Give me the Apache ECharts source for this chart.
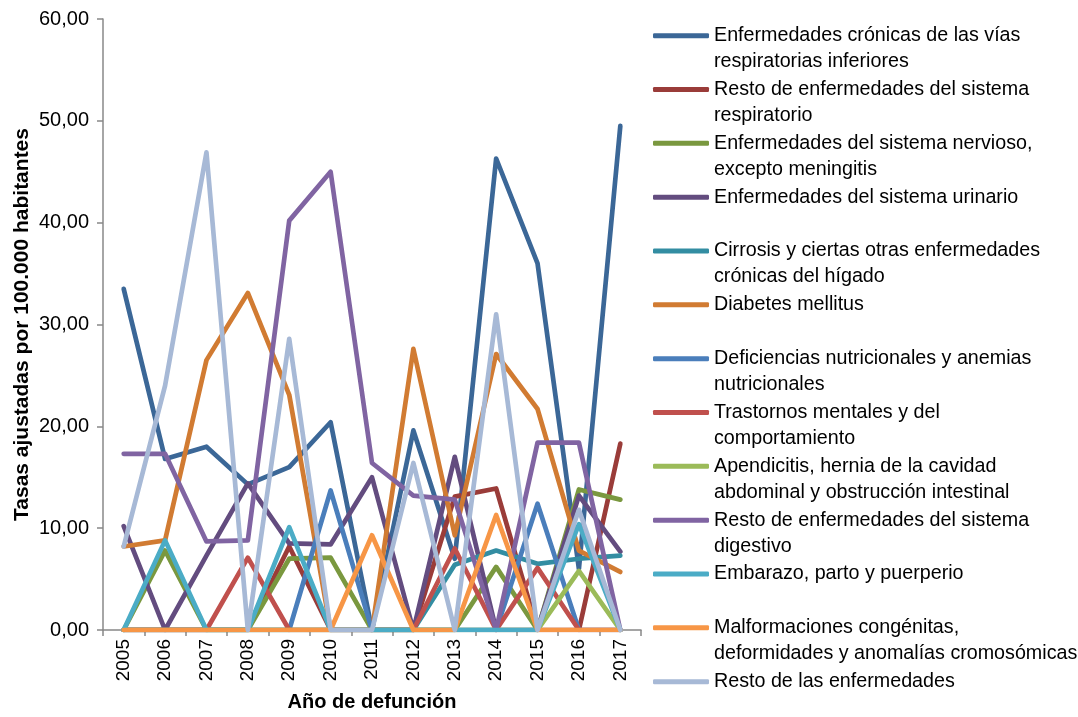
<!DOCTYPE html>
<html>
<head>
<meta charset="utf-8">
<script src="https://cdn.jsdelivr.net/npm/echarts@6/dist/echarts.min.js"></script>
<style>
  html, body { margin: 0; padding: 0; background: #ffffff; }
  #chart { width: 1078px; height: 717px; }
</style>
</head>
<body>
<div id="chart"></div>
<script>
// Años de defunción
const years = ['2005','2006','2007','2008','2009','2010','2011','2012','2013','2014','2015','2016','2017'];

// Tasas ajustadas por 100.000 habitantes, por causa
const viasRespiratorias   = [33.5, 16.8, 18.0, 14.3, 16.0, 20.4, 0.0, 19.6, 7.0, 46.3, 36.0, 6.0, 49.5];
const restoRespiratorio   = [0.0, 0.0, 0.0, 0.0, 8.2, 0.0, 0.0, 0.0, 13.1, 13.9, 0.0, 0.0, 18.3];
const sistemaNervioso     = [0.0, 7.8, 0.0, 0.0, 7.0, 7.1, 0.0, 0.0, 0.0, 6.2, 0.0, 13.8, 12.8];
const sistemaUrinario     = [10.2, 0.0, 7.3, 14.4, 8.5, 8.4, 15.0, 0.0, 17.0, 0.0, 0.0, 13.2, 7.7];
const cirrosis            = [0.0, 0.0, 0.0, 0.0, 0.0, 0.0, 0.0, 0.0, 6.4, 7.8, 6.5, 7.0, 7.3];
const diabetes            = [8.2, 8.8, 26.5, 33.1, 23.1, 0.0, 0.0, 27.6, 9.3, 27.1, 21.7, 7.8, 5.7];
const deficiencias        = [0.0, 0.0, 0.0, 0.0, 0.0, 13.7, 0.0, 0.0, 0.0, 0.0, 12.4, 0.0, 0.0];
const trastornosMentales  = [0.0, 0.0, 0.0, 7.1, 0.0, 0.0, 0.0, 0.0, 8.0, 0.0, 6.1, 0.0, 0.0];
const apendicitis         = [0.0, 0.0, 0.0, 0.0, 0.0, 0.0, 0.0, 0.0, 0.0, 0.0, 0.0, 5.8, 0.0];
const restoDigestivo      = [17.3, 17.3, 8.7, 8.8, 40.2, 45.0, 16.4, 13.2, 12.8, 0.0, 18.4, 18.4, 0.0];
const embarazo            = [0.0, 8.8, 0.0, 0.0, 10.1, 0.0, 0.0, 0.0, 0.0, 0.0, 0.0, 10.4, 0.0];
const malformaciones      = [0.0, 0.0, 0.0, 0.0, 0.0, 0.0, 9.3, 0.0, 0.0, 11.3, 0.0, 0.0, 0.0];
const restoEnfermedades   = [8.2, 24.0, 46.9, 0.0, 28.6, 0.0, 0.0, 16.4, 0.0, 31.0, 0.0, 11.8, 0.0];

// Marcas del eje Y
const yTicks = [0, 10, 20, 30, 40, 50, 60];

const causes = [
  { name: 'Enfermedades crónicas de las vías respiratorias inferiores', label: 'Enfermedades crónicas de las vías\nrespiratorias inferiores', data: viasRespiratorias, color: '#3B6797' },
  { name: 'Resto de enfermedades del sistema respiratorio', label: 'Resto de enfermedades del sistema\nrespiratorio', data: restoRespiratorio, color: '#9A3C39' },
  { name: 'Enfermedades del sistema nervioso, excepto meningitis', label: 'Enfermedades del sistema nervioso,\nexcepto meningitis', data: sistemaNervioso, color: '#7A983F' },
  { name: 'Enfermedades del sistema urinario', label: 'Enfermedades del sistema urinario', data: sistemaUrinario, color: '#634C7F' },
  { name: 'Cirrosis y ciertas otras enfermedades crónicas del hígado', label: 'Cirrosis y ciertas otras enfermedades\ncrónicas del hígado', data: cirrosis, color: '#338DA2' },
  { name: 'Diabetes mellitus', label: 'Diabetes mellitus', data: diabetes, color: '#D17B32' },
  { name: 'Deficiencias nutricionales y anemias nutricionales', label: 'Deficiencias nutricionales y anemias\nnutricionales', data: deficiencias, color: '#4A7EBB' },
  { name: 'Trastornos mentales y del comportamiento', label: 'Trastornos mentales y del\ncomportamiento', data: trastornosMentales, color: '#C0504D' },
  { name: 'Apendicitis, hernia de la cavidad abdominal y obstrucción intestinal', label: 'Apendicitis, hernia de la cavidad\nabdominal y obstrucción intestinal', data: apendicitis, color: '#9BBB59' },
  { name: 'Resto de enfermedades del sistema digestivo', label: 'Resto de enfermedades del sistema\ndigestivo', data: restoDigestivo, color: '#8064A2' },
  { name: 'Embarazo, parto y puerperio', label: 'Embarazo, parto y puerperio', data: embarazo, color: '#4BACC6' },
  { name: 'Malformaciones congénitas, deformidades y anomalías cromosómicas', label: 'Malformaciones congénitas,\ndeformidades y anomalías cromosómicas', data: malformaciones, color: '#F79646' },
  { name: 'Resto de las enfermedades', label: 'Resto de las enfermedades', data: restoEnfermedades, color: '#A7B9D6' }
];

const FONT = '"Liberation Sans", Arial, sans-serif';
const LINE_H = 26;
const AXIS_COLOR = '#888888';

// Una leyenda por causa; en las de dos líneas se antepone una línea vacía
// para que la muestra quede a la altura de la primera línea del texto
const legends = causes.map((c, i) => {
  const twoLines = c.label.indexOf('\n') >= 0;
  const iconCenter = 35.7 + 53.83 * i;
  const text = twoLines ? ' \n' + c.label : c.label;
  return {
    data: [c.name],
    orient: 'vertical',
    left: 653,
    top: iconCenter - (twoLines ? LINE_H * 1.5 : LINE_H * 0.5),
    padding: 0,
    icon: 'roundRect',
    itemWidth: 56,
    itemHeight: 5,
    selectedMode: false,
    formatter: () => text,
    textStyle: {
      fontFamily: FONT,
      fontSize: 19.7,
      color: '#000000',
      lineHeight: LINE_H
    }
  };
});

const chart = echarts.init(document.getElementById('chart'), null, { renderer: 'canvas' });

chart.setOption({
  backgroundColor: '#ffffff',
  animation: false,
  grid: { left: 103, top: 19, width: 538, height: 611, containLabel: false },
  legend: legends,
  xAxis: {
    type: 'category',
    data: years,
    boundaryGap: true,
    name: 'Año de defunción',
    nameLocation: 'middle',
    nameGap: 62,
    nameTextStyle: { fontFamily: FONT, fontSize: 20, fontWeight: 'bold', color: '#000000' },
    axisLine: { show: true, lineStyle: { color: AXIS_COLOR, width: 1.5 } },
    axisTick: { show: true, alignWithLabel: false, length: 6, lineStyle: { color: AXIS_COLOR, width: 1.5 } },
    axisLabel: { rotate: 90, margin: 9, fontFamily: FONT, fontSize: 19, color: '#000000', interval: 0 },
    splitLine: { show: false }
  },
  yAxis: {
    type: 'value',
    min: yTicks[0],
    max: yTicks[yTicks.length - 1],
    interval: yTicks[1] - yTicks[0],
    name: 'Tasas ajustadas por 100.000 habitantes',
    nameLocation: 'middle',
    nameGap: 70,
    nameTextStyle: { fontFamily: FONT, fontSize: 21, fontWeight: 'bold', color: '#000000' },
    axisLine: { show: true, lineStyle: { color: AXIS_COLOR, width: 1.5 } },
    axisTick: { show: true, inside: false, length: 6, lineStyle: { color: AXIS_COLOR, width: 1.5 } },
    axisLabel: {
      margin: 14,
      fontFamily: FONT,
      fontSize: 20,
      color: '#000000',
      formatter: v => v.toFixed(2).replace('.', ',')
    },
    splitLine: { show: false }
  },
  series: causes.map(c => ({
    name: c.name,
    type: 'line',
    data: c.data,
    symbol: 'none',
    color: c.color,
    lineStyle: { color: c.color, width: 4.7, cap: 'round', join: 'round' },
    emphasis: { disabled: true }
  }))
});
</script>
</body>
</html>
